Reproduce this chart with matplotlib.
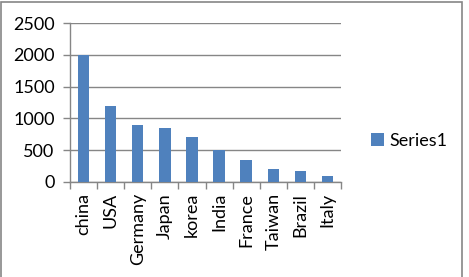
import matplotlib
matplotlib.use("Agg")
import matplotlib.pyplot as plt
from matplotlib.patches import Rectangle

countries = ['china', 'USA', 'Germany', 'Japan', 'korea', 'India', 'France', 'Taiwan', 'Brazil', 'Italy']
values = [2000, 1200, 900, 850, 700, 500, 350, 200, 170, 100]
yticks = [0, 500, 1000, 1500, 2000, 2500]

plt.rcParams['font.family'] = ['Lato', 'DejaVu Sans']

fig = plt.figure(figsize=(4.69, 2.77), dpi=100)
ax = fig.add_axes([70/469, 1-182/277, 271/469, 159/277])

x = list(range(len(countries)))
ax.bar(x, values, width=0.42, color='#4F81BD', label='Series1', zorder=3)

ax.set_xlim(-0.5, len(countries)-0.5)
ax.set_ylim(0, 2500)
ax.set_yticks(yticks)
ax.set_yticklabels([str(v) for v in yticks], fontsize=13)
ax.yaxis.grid(True, color='#868686', linewidth=1, zorder=0)

ax.set_xticks(x)
ax.set_xticklabels(countries, rotation=90, fontsize=13)
ax.tick_params(axis='x', which='major', length=0, pad=8)
ax.set_xticks([i - 0.5 for i in range(len(countries)+1)], minor=True)
ax.tick_params(axis='x', which='minor', length=5, color='#868686', width=1)
ax.tick_params(axis='y', length=5, color='#868686', width=1, pad=6)

for s in ['top', 'right']:
    ax.spines[s].set_visible(False)
for s in ['left', 'bottom']:
    ax.spines[s].set_color('#868686')
    ax.spines[s].set_linewidth(1)

fig.legend(loc='center left', bbox_to_anchor=(355/469, 1-141/277), frameon=False,
           fontsize=13, handlelength=0.7, handleheight=0.7, handletextpad=0.3)

fig.patches.append(Rectangle((0.5/469, -0.1), 461/469, 1.1 - 1.5/277, transform=fig.transFigure,
                             fill=False, edgecolor='#868686', linewidth=1.2))

fig.savefig('out.png', dpi=100)
